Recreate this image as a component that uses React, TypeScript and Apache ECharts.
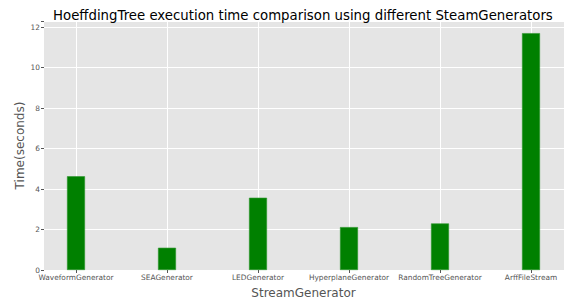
import React, { useEffect, useRef } from "react";
import * as echarts from "echarts";

const categories = [
  "WaveformGenerator",
  "SEAGenerator",
  "LEDGenerator",
  "HyperplaneGenerator",
  "RandomTreeGenerator",
  "ArffFileStream",
];
const times = [4.63, 1.1, 3.57, 2.12, 2.3, 11.7];
const yTicks = [0, 2, 4, 6, 8, 10, 12];

export default function App() {
  const ref = useRef<HTMLDivElement>(null);
  useEffect(() => {
    if (!ref.current) return;
    const chart = echarts.init(ref.current, undefined, { renderer: "svg" });
    const font = "DejaVu Sans";
    const gridBase = { top: 21, bottom: 29, containLabel: false, outerBoundsMode: "none" };
    chart.setOption({
      animation: false,
      backgroundColor: "#ffffff",
      title: {
        text: "HoeffdingTree execution time comparison using different SteamGenerators",
        left: 48,
        top: 4,
        textStyle: { fontFamily: font, fontSize: 13.3, fontWeight: "normal", color: "#000" },
      },
      grid: [
        {
          ...gridBase,
          left: 44,
          right: 0,
          show: true,
          backgroundColor: "#E5E5E5",
          borderWidth: 0,
        },
        { ...gridBase, left: 76, right: 33, show: false },
      ],
      xAxis: [
        {
          type: "value",
          gridIndex: 0,
          min: -0.36,
          max: 5.36,
          show: false,
          axisLine: { onZero: false },
        },
        {
          type: "category",
          gridIndex: 1,
          data: categories,
          boundaryGap: false,
          name: "StreamGenerator",
          nameLocation: "middle",
          nameGap: 17,
          nameMoveOverlap: false,
          nameTextStyle: { fontFamily: font, fontSize: 12, color: "#555" },
          axisLine: { show: false, onZero: false },
          axisTick: { show: true, length: 3, lineStyle: { color: "#555" } },
          axisLabel: { fontFamily: font, fontSize: 7.4, color: "#555", margin: 4, interval: 0 },
          splitLine: { show: true, interval: 0, lineStyle: { color: "#fff", width: 1 } },
        },
      ],
      yAxis: [
        {
          type: "value",
          gridIndex: 0,
          min: 0,
          max: 12.3,
          interval: 2,
          name: "Time(seconds)",
          nameLocation: "middle",
          nameGap: 18,
          nameMoveOverlap: false,
          nameTextStyle: { fontFamily: font, fontSize: 12, color: "#555" },
          axisLine: { show: false, onZero: false },
          axisTick: { show: true, inside: false, length: 3, lineStyle: { color: "#555" } },
          axisLabel: {
            fontFamily: font,
            fontSize: 7.4,
            color: "#555",
            margin: 4,
            formatter: (v: number) => (yTicks.includes(v) ? String(v) : ""),
          },
          splitLine: { show: true, lineStyle: { color: "#fff", width: 1 } },
        },
        {
          type: "value",
          gridIndex: 1,
          min: 0,
          max: 12.3,
          show: false,
          axisLine: { onZero: false },
        },
      ],
      series: [
        {
          type: "bar",
          xAxisIndex: 1,
          yAxisIndex: 1,
          data: times,
          barWidth: 18,
          itemStyle: { color: "#008000", borderColor: "#2e962e", borderWidth: 0.6 },
          z: 3,
        },
      ],
    });
    return () => chart.dispose();
  }, []);
  return (
    <div
      ref={ref}
      style={{ position: "fixed", left: 0, top: 0, width: 564, height: 299 }}
    />
  );
}
